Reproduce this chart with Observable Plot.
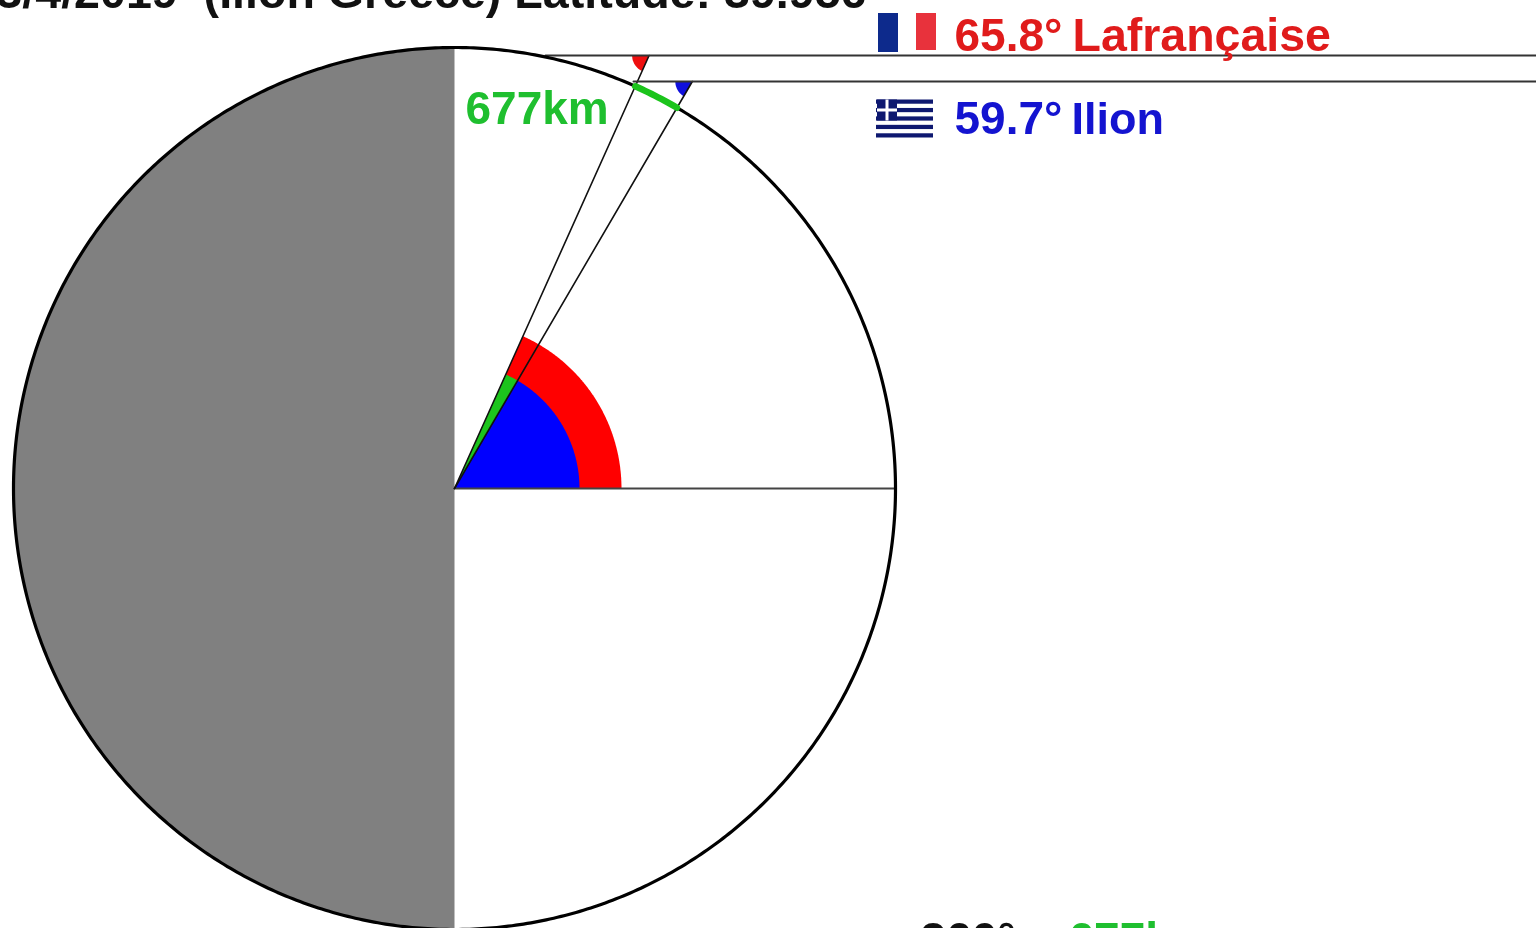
<!DOCTYPE html>
<html>
<head>
<meta charset="utf-8">
<script src="https://cdn.jsdelivr.net/npm/d3@7"></script>
<script src="https://cdn.jsdelivr.net/npm/@observablehq/plot@0.6"></script>
<style>
html,body{margin:0;padding:0;background:#fff;overflow:hidden}
svg{display:block;filter:blur(0.7px)}
</style>
</head>
<body>
<div id="chart"></div>
<script>
// Values
const sites = ["Lafrançaise", "Ilion"];
const angles = [65.8, 59.7];
const distanceLabel = "677km";
const titleText = "3/4/2019  (Ilion Greece) Latitude: 39.956";
const footerParts = ["360° = ", "677km"];

// Scale: one Earth radius = 441 px; centre of the circle at (454, 488)
const R = 441, CX = 454, CY = 488;
const X = px => (px - CX) / R;
const Y = py => (CY - py) / R;
const rad = a => a * Math.PI / 180;
const pol = (a, r = 1) => ({x: r * Math.cos(rad(a)), y: r * Math.sin(rad(a))});
const arc = (a0, a1, r = 1) => {
  const n = Math.max(2, Math.ceil(Math.abs(a1 - a0) * 2));
  return d3.range(n + 1).map(i => pol(a0 + (a1 - a0) * i / n, r));
};
const sector = (a0, a1, r) => [{x: 0, y: 0}, ...arc(a0, a1, r), {x: 0, y: 0}];

const RAY_Y = [Y(55), Y(81)];
const RAY_START = [X(545), X(633)];
const RAY_END = X(1536);
const vertex = i => ({x: RAY_Y[i] / Math.tan(rad(angles[i])), y: RAY_Y[i]});
const tip = i => {
  const v = vertex(i), r = 17 / R;
  return [v, ...d3.range(0, 13).map(k => {
    const a = 180 + angles[i] * k / 12;
    return {x: v.x + r * Math.cos(rad(a)), y: v.y + r * Math.sin(rad(a))};
  }), v];
};
const fillPoly = (pts, fill) => Plot.line(pts, {x: "x", y: "y", fill, stroke: "none", curve: "linear"});
const box = (x1, x2, y1, y2, fill) => Plot.rect([{x1: X(x1), x2: X(x2), y1: Y(y1), y2: Y(y2)}],
  {x1: "x1", x2: "x2", y1: "y1", y2: "y2", fill});
const label = (t, x, y, fill, anchor = "start", fontSize = 46) => Plot.text([t], {
  x: () => X(x), y: () => Y(y), text: d => d, fill, textAnchor: anchor, lineAnchor: "bottom",
  fontSize, fontWeight: "bold"
});

const NAVY = "#0e1870";
const stripeH = 38 / 9;
const greekStripes = d3.range(0, 9, 2).map(k => box(876, 933, 99.5 + k * stripeH, 99.5 + (k + 1) * stripeH, NAVY));

const plot = Plot.plot({
  width: 1536, height: 928,
  margin: 0,
  x: {domain: [X(0), X(1536)], range: [0, 1536], axis: null},
  y: {domain: [Y(928), Y(0)], range: [928, 0], axis: null},
  style: {fontFamily: "'Liberation Sans', Arial, sans-serif", background: "#fff"},
  marks: [
    // dark half of the globe
    fillPoly(sector(90, 270, 1), "#808080"),
    // angle wedges
    fillPoly(sector(0, angles[0], 167 / R), "#ff0000"),
    fillPoly(sector(angles[1], angles[0], 125 / R), "#1cc41c"),
    fillPoly(sector(0, angles[1], 125 / R), "#0000ff"),
    // small angle marks at the rays
    fillPoly(tip(0), "#ee0f0f"),
    fillPoly(tip(1), "#1010dd"),
    // rays and radii
    Plot.line([{x: 0, y: 0}, {x: 1, y: 0}], {x: "x", y: "y", stroke: "#444", strokeWidth: 2.2}),
    Plot.line([{x: 0, y: 0}, vertex(0)], {x: "x", y: "y", stroke: "#111", strokeWidth: 1.6}),
    Plot.line([{x: 0, y: 0}, vertex(1)], {x: "x", y: "y", stroke: "#111", strokeWidth: 1.6}),
    Plot.line([{x: RAY_START[0], y: RAY_Y[0]}, {x: RAY_END, y: RAY_Y[0]}], {x: "x", y: "y", stroke: "#333", strokeWidth: 2}),
    Plot.line([{x: RAY_START[1], y: RAY_Y[1]}, {x: RAY_END, y: RAY_Y[1]}], {x: "x", y: "y", stroke: "#333", strokeWidth: 2}),
    // globe outline and surface distance
    Plot.line(arc(0, 360, 1), {x: "x", y: "y", stroke: "#000", strokeWidth: 3.2}),
    Plot.line(arc(angles[1], angles[0], 1), {x: "x", y: "y", stroke: "#1cc41c", strokeWidth: 6.5}),
    // French flag
    box(878, 898, 13, 52, "#0d2a8c"),
    box(916, 936, 13, 50, "#e8323c"),
    // Greek flag
    ...greekStripes,
    box(877, 897, 99.5, 120.5, NAVY),
    box(885.5, 888.5, 99.5, 120.5, "#fff"),
    box(877, 897, 108.5, 111.5, "#fff"),
    // texts
    label(titleText, 866, 7, "#111", "end", 46.6),
    label(distanceLabel, 465, 123, "#1fbf2f"),
    label(`${angles[0]}°`, 954, 50, "#e01b1b"),
    label(sites[0], 1072, 50, "#e01b1b", "start", 46.5),
    label(`${angles[1]}°`, 954, 133, "#1414d0"),
    label(sites[1], 1071, 133, "#1414d0", "start", 45),
    label(footerParts[0], 920, 954, "#111"),
    label(footerParts[1], 1068, 954, "#1fbf2f")
  ]
});
document.getElementById("chart").append(plot);
</script>
</body>
</html>
